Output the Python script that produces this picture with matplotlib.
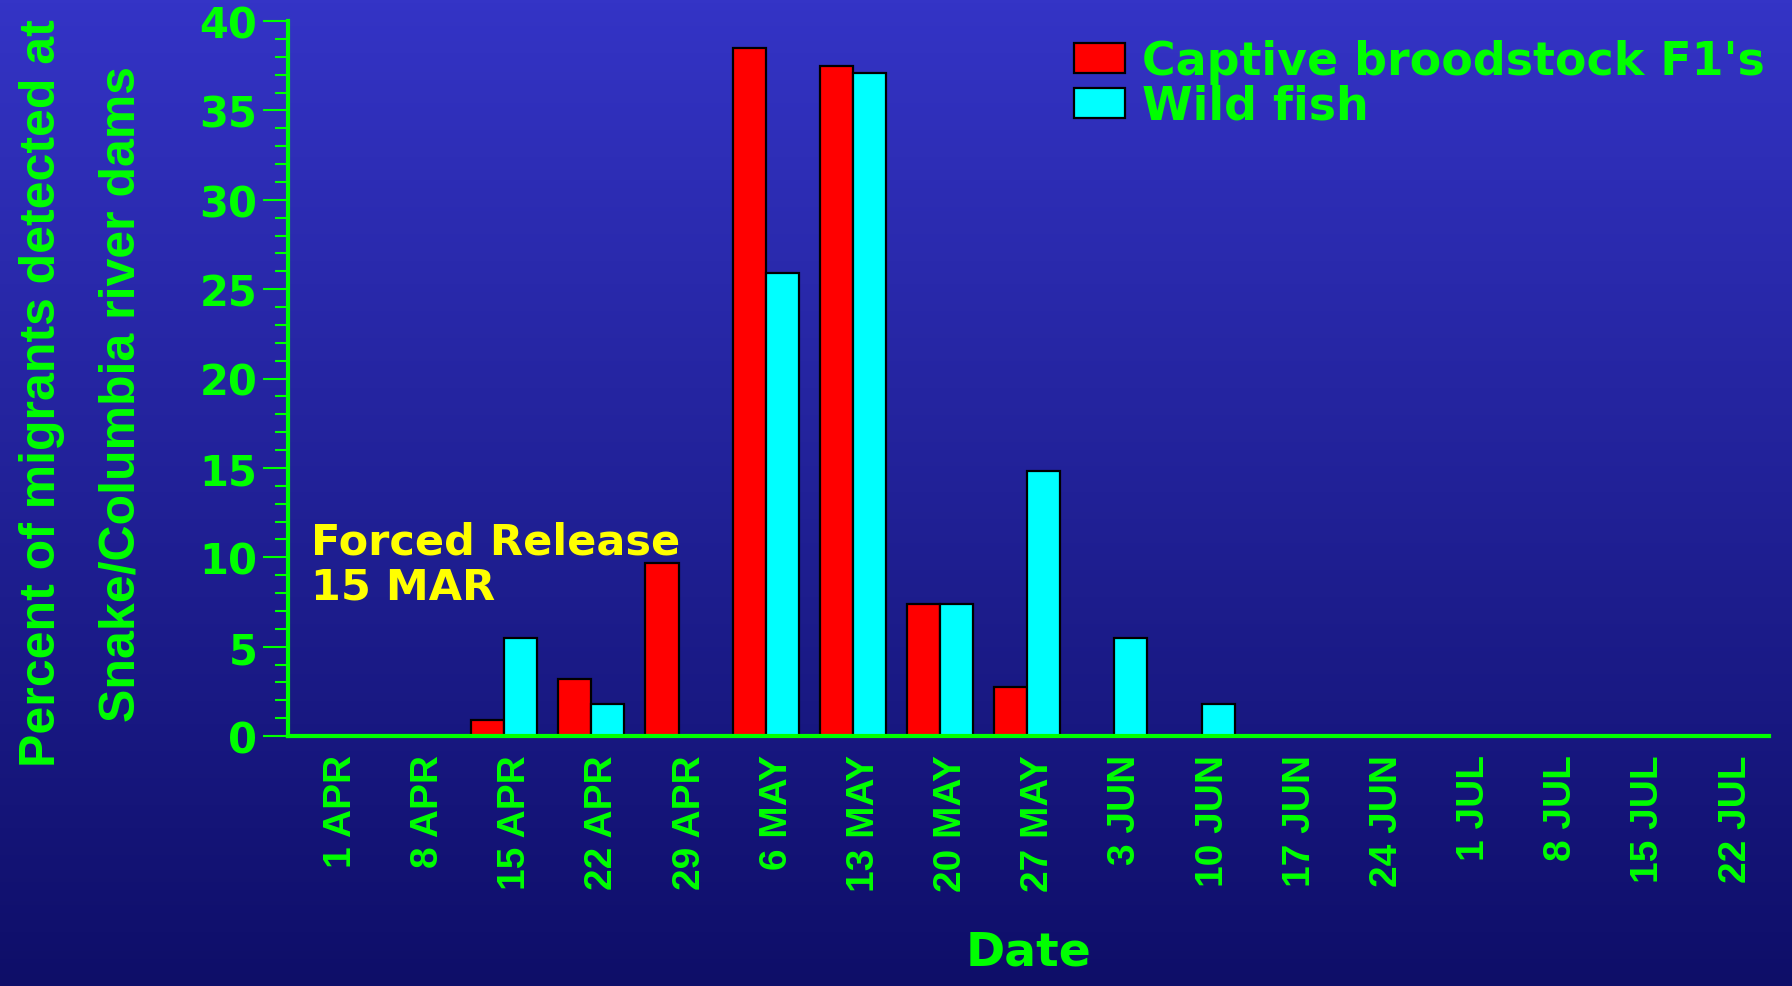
import numpy as np
import matplotlib
matplotlib.use("Agg")
import matplotlib.pyplot as plt
import matplotlib.transforms as mtransforms
from matplotlib.patches import Patch

# dates of each weekly detection period
fechas = ['1 APR', '8 APR', '15 APR', '22 APR', '29 APR', '6 MAY', '13 MAY',
          '20 MAY', '27 MAY', '3 JUN', '10 JUN', '17 JUN', '24 JUN',
          '1 JUL', '8 JUL', '15 JUL', '22 JUL']

# percent of migrants detected per week
cautivos = [0, 0, 0.9, 3.2, 9.7, 38.5, 37.5, 7.4, 2.75, 0, 0, 0, 0, 0, 0, 0, 0]
silvestres = [0, 0, 5.5, 1.8, 0, 25.9, 37.1, 7.4, 14.85, 5.5, 1.8, 0, 0, 0, 0, 0, 0]

etiquetas = ["Captive broodstock F1's", 'Wild fish']
y_ticks = [0, 5, 10, 15, 20, 25, 30, 35, 40]

VERDE = '#00FF00'
AMARILLO = '#FFFF00'
ROJO = '#FF0000'
CIAN = '#00FFFF'
ANGOSTA = 'Liberation Sans'
ANCHA = 'DejaVu Sans'

fig = plt.figure(figsize=(17.92, 9.87), dpi=100)

# fondo degradado azul
fondo = fig.add_axes([0, 0, 1, 1], zorder=-1)
arriba = np.array([52, 52, 198]) / 255
abajo = np.array([14, 14, 104]) / 255
t = np.linspace(0, 1, 256)[:, None]
grad = arriba[None, :] * (1 - t) + abajo[None, :] * t
fondo.imshow(grad[:, None, :], aspect='auto', extent=[0, 1, 0, 1])
fondo.axis('off')

ax = fig.add_axes([288 / 1792, 1 - 737 / 987, (1769 - 288) / 1792, (737 - 22) / 987])
ax.set_facecolor('none')

x = np.arange(len(fechas))
ancho = 0.38
ax.bar(x - ancho / 2, cautivos, ancho, color=ROJO, edgecolor='black', linewidth=1.6, zorder=3)
ax.bar(x + ancho / 2, silvestres, ancho, color=CIAN, edgecolor='black', linewidth=1.6, zorder=3)

ax.set_xlim(-0.48, 16.51)
ax.set_ylim(0, 40)

for lado in ['top', 'right']:
    ax.spines[lado].set_visible(False)
for lado in ['left', 'bottom']:
    ax.spines[lado].set_color(VERDE)
    ax.spines[lado].set_linewidth(3)
    ax.spines[lado].set_zorder(4)

ax.set_yticks(y_ticks)
ax.set_yticks(np.arange(0, 41, 1), minor=True)
ax.tick_params(axis='y', which='major', length=18, width=1.5, color=VERDE, pad=4,
               labelcolor=VERDE, labelsize=30)
ax.tick_params(axis='y', which='minor', length=9.5, width=1.5, color=VERDE)
for lbl in ax.get_yticklabels():
    lbl.set_fontweight('bold')
    lbl.set_family(ANCHA)

ax.set_xticks(x)
ax.set_xticklabels(fechas, rotation=90, fontsize=28, fontweight='bold',
                   color=VERDE, family=ANGOSTA, va='top', ha='center')
ax.tick_params(axis='x', length=0, pad=13)
# las fechas quedan un poco a la derecha del centro de cada grupo
desplazo = mtransforms.ScaledTranslation(0.11, 0, fig.dpi_scale_trans)
for lbl in ax.get_xticklabels():
    lbl.set_transform(lbl.get_transform() + desplazo)

ax.set_xlabel('Date', fontsize=34, fontweight='bold', color=VERDE, family=ANCHA)
ax.xaxis.set_label_coords(0.5, -0.270)
ax.xaxis.label.set_va('top')

# etiqueta del eje y en dos lineas
fig.text(42 / 1792, 1 - 393 / 987, 'Percent of migrants detected at', rotation=90,
         ha='center', va='center', fontsize=36, fontweight='bold', color=VERDE, family=ANGOSTA)
fig.text(122 / 1792, 1 - 394 / 987, 'Snake/Columbia river dams', rotation=90,
         ha='center', va='center', fontsize=36, fontweight='bold', color=VERDE, family=ANGOSTA)

ax.text(311 / 1792, 1 - 599 / 987, 'Forced Release\n15 MAR', transform=fig.transFigure,
        ha='left', va='baseline', fontsize=31, fontweight='bold', color=AMARILLO,
        family=ANCHA, linespacing=1.08)

manejadores = [Patch(facecolor=ROJO, edgecolor='black', linewidth=1.6),
               Patch(facecolor=CIAN, edgecolor='black', linewidth=1.6)]
ley = ax.legend(manejadores, etiquetas, loc='upper left',
                bbox_to_anchor=(1074 / 1792, 1 - 40 / 987), bbox_transform=fig.transFigure,
                frameon=False, borderpad=0, borderaxespad=0,
                handlelength=1.12, handleheight=0.63, handletextpad=0.37,
                labelspacing=0.0, prop={'family': ANCHA, 'weight': 'bold', 'size': 33})
for txt in ley.get_texts():
    txt.set_color(VERDE)

fig.savefig('out.png', dpi=100)
